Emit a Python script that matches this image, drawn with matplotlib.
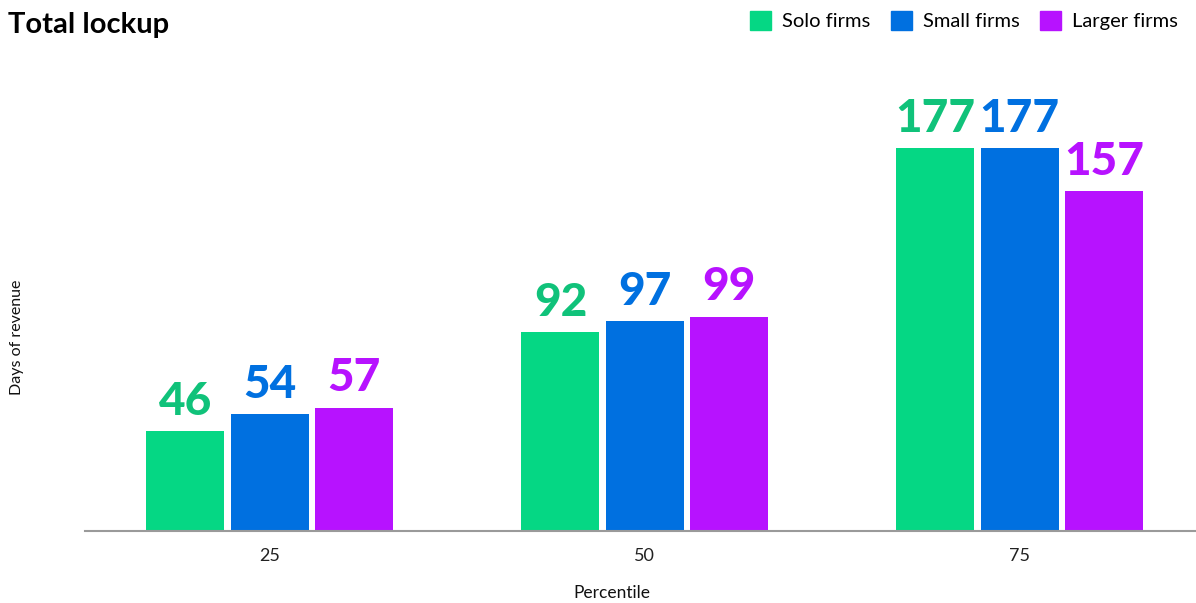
import matplotlib
matplotlib.use("Agg")
import matplotlib.pyplot as plt
import numpy as np
from matplotlib.patches import Patch

categories = ["25", "50", "75"]
series_names = ["Solo firms", "Small firms", "Larger firms"]
solo = [46, 92, 177]
small = [54, 97, 177]
larger = [57, 99, 157]

bar_colors = ["#05D784", "#0070E0", "#B712FF"]
label_colors = ["#10C27A", "#0070E0", "#B712FF"]

plt.rcParams['font.family'] = ['Lato', 'DejaVu Sans']

fig = plt.figure(figsize=(11.96, 6.03), dpi=100)
ax = fig.add_axes([85/1196, 1-531/603, 1-85/1196, (531-60)/603])

x = np.arange(len(categories))
width = 0.208
pitch = 0.225
for i, (vals, name) in enumerate(zip([solo, small, larger], series_names)):
    pos = x + (i - 1) * pitch
    ax.bar(pos, vals, width=width, color=bar_colors[i], label=name, zorder=2)
    for p, v in zip(pos, vals):
        ax.annotate(str(v), (p, v), xytext=(0, 6), textcoords='offset points',
                    ha='center', va='bottom', fontsize=33, fontweight='black',
                    color=label_colors[i])

ax.set_xlim(-0.493, 2.47)
ax.set_ylim(0, (531-60)/2.164)
ax.set_xticks(x)
ax.set_xticklabels(categories, fontsize=13, color="#222222")
ax.tick_params(axis='x', length=0, pad=12)
ax.set_yticks([])
for s in ['top', 'right', 'left']:
    ax.spines[s].set_visible(False)
ax.spines['bottom'].set_color('#9A9A9A')
ax.spines['bottom'].set_linewidth(1.5)

fig.text(612/1196, 1-593/603, "Percentile", ha='center', va='center', fontsize=12.5, color="#111111")
fig.text(17/1196, 1-337/603, "Days of revenue", ha='center', va='center', rotation=90, fontsize=11.5, color="#111111")
fig.text(8/1196, 1-25/603, "Total lockup", ha='left', va='center', fontsize=21, fontweight='bold', color="#000000")

handles = [Patch(color=c) for c in bar_colors]
fig.legend(handles, series_names, loc='upper right', bbox_to_anchor=(1.0, 1.012), ncol=3,
           frameon=False, fontsize=14.5, handlelength=1.05, handleheight=1.05,
           handletextpad=0.55, columnspacing=1.0, borderaxespad=0.5)

fig.savefig("out.png", dpi=100)
